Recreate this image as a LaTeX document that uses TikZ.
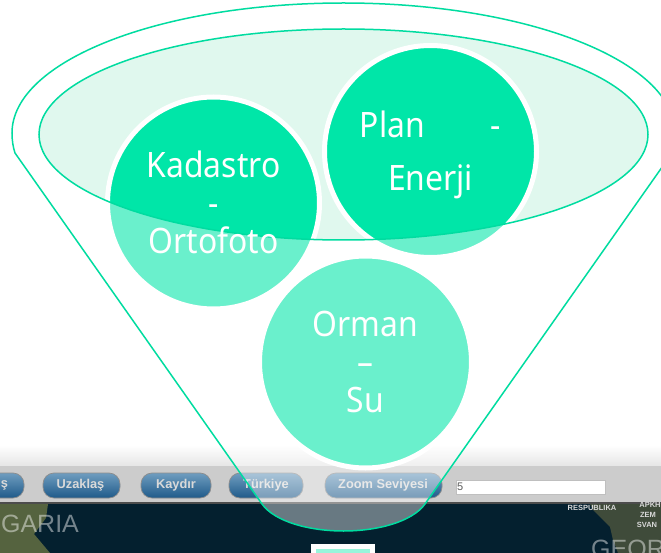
\documentclass[tikz,border=0pt]{standalone}
\usepackage{fontspec}
\setmainfont[FakeStretch=0.91]{Noto Sans}
\newfontfamily\barfont{Liberation Sans}
\usetikzlibrary{calc}
\definecolor{greenfull}{HTML}{00E6A8}
\definecolor{greenpale}{HTML}{6AF0CC}
\definecolor{greenwash}{HTML}{E0F8EE}
\definecolor{greenline}{HTML}{00DCA0}
\definecolor{seadark}{HTML}{04202F}
\definecolor{landdark}{HTML}{55633F}
\definecolor{landeast}{HTML}{3F4B3A}
\definecolor{btntop}{HTML}{6F9DBF}
\definecolor{btnbot}{HTML}{1F5A8A}
\begin{document}
\begin{tikzpicture}
                [x=1pt, y=-1pt,
                csty/.style={circle, draw=white, line width=5pt, fill=greenpale, inner sep=0pt, minimum size=212pt},
                lsty/.style={text=white, align=center, font=\fontsize{35}{38}\selectfont},
                bsty/.style={rounded corners=11pt, draw=black!45, line width=0.7pt, top color=btntop, bottom color=btnbot},
                tsty/.style={text=white!85!black, font=\barfont\bfseries\fontsize{12.8}{13}\selectfont},
                msty/.style={text=white, opacity=0.45, font=\barfont\fontsize{25}{25}\selectfont},
                ssty/.style={text=white!85!black, font=\barfont\bfseries\fontsize{7.5}{8}\selectfont},
                fsty/.style={draw=greenline, line width=1.5pt}]
                \clip (0,0) rectangle (661,553);
                % toolbar and map
                \fill[white] (0,0) rectangle (661,553);
                \shade[top color=white, bottom color=black!10] (0,445) rectangle (661,466);
                \fill[black!20] (0,466) rectangle (661,503);
                \fill[seadark] (0,503) rectangle (661,553);
                \fill[black!70] (0,502) rectangle (661,504);
                \fill[landdark] (0,504) -- (48,504) -- (46,518) -- (34,534) -- (50,553) -- (0,553) -- cycle;
                \fill[landeast] (590,504) -- (661,504) -- (661,553) -- (618,553) -- (613,540) -- (610,527) -- (593,510) -- cycle;
                % buttons
                \draw[bsty] (-40,473) rectangle (24,498);
                \draw[bsty] (43,473) rectangle (120,498);
                \draw[bsty] (141,473) rectangle (211,498);
                \draw[bsty] (229,473) rectangle (303,498);
                \draw[bsty] (325,473) rectangle (442,498);
                \node[tsty] (btna) at (8,485) {\llap{ş}};
                \node[tsty] (btnb) at (80.5,485) {Uzaklaş};
                \node[tsty] (btnc) at (176,485) {Kaydır};
                \node[tsty] (btnd) at (266,485) {Türkiye};
                \node[tsty] (btne) at (383,485) {Zoom Seviyesi};
                \node[draw=black!25, line width=1pt, fill=white, minimum width=149pt, minimum height=14pt, inner sep=0pt] (zbox) at (531,487) {};
                \node[anchor=west, inner sep=0pt, text=black!65, font=\barfont\fontsize{11}{11}\selectfont] (zval) at (457,487) {5};
                % map labels
                \node[msty] (bulg) at (40,524) {GARIA};
                \node[msty] (geor) at (628,549) {GEOR};
                \node[ssty] (resp) at (592,508) {RESPUBLIKA};
                \node[ssty] (zem) at (648,515) {ZEM};
                \node[ssty] (svan) at (647,525) {SVAN};
                \node[ssty] (abk) at (650,505) {APKH};
                % small box
                \fill[white] (311,544) rectangle (375,553);
                \fill[greenpale!70!white] (316,549) rectangle (370,553);
                % funnel
                \path[fill=white, fill opacity=0.4] (15,153) .. controls (13,147) and (12,140) .. (12,133)
                    .. controls (12,61) and (160,3) .. (343.5,3) .. controls (527,3) and (675,61) .. (675,133)
                    .. controls (675,140) and (674,147) .. (672,153) -- (425,504)
                    .. controls (412,522) and (377,531) .. (343.5,531) .. controls (310,531) and (275,522) .. (262,504) -- cycle;
                % circles
                \node[csty] (kada) at (213.5,203) {};
                \node[csty] (plan) at (430.5,151.5) {};
                \node[csty] (orma) at (365.5,362) {};
                % inner ellipse
                \fill[greenwash] (343.5,134.5) ellipse [x radius=304.5, y radius=105.5];
                \begin{scope}
                    \clip (343.5,134.5) ellipse [x radius=304.5, y radius=105.5];
                    \draw[white, line width=5pt, fill=greenfull] (213.5,203) circle [radius=106];
                    \draw[white, line width=5pt, fill=greenfull] (430.5,151.5) circle [radius=106];
                \end{scope}
                \draw[fsty] (343.5,134.5) ellipse [x radius=304.5, y radius=105.5];
                \draw[fsty] (15,153) .. controls (13,147) and (12,140) .. (12,133)
                    .. controls (12,61) and (160,3) .. (343.5,3) .. controls (527,3) and (675,61) .. (675,133)
                    .. controls (675,140) and (674,147) .. (672,153) -- (425,504)
                    .. controls (412,522) and (377,531) .. (343.5,531) .. controls (310,531) and (275,522) .. (262,504) -- cycle;
                % texts
                \node[lsty] (kadat) at (213.5,202) {Kadastro\\-\\Ortofoto};
                \node[lsty] (plant) at (430.5,154.5) {Plan\hspace{66pt}-\\[15pt]Enerji};
                \node[lsty] (ormat) at (365.5,362) {Orman\\--\\Su};
            \end{tikzpicture}
\end{document}
